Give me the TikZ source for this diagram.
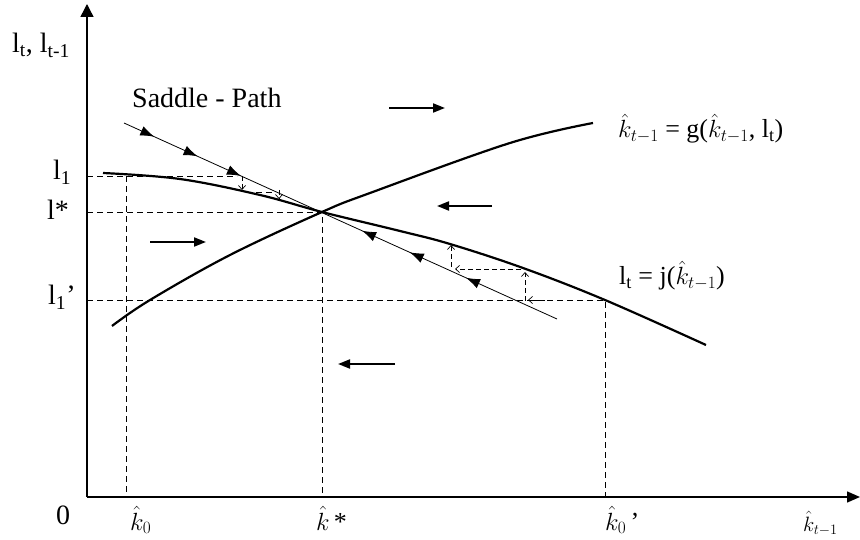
\documentclass[tikz,border=0pt]{standalone}
\usepackage{fontspec}
\setmainfont{Liberation Serif}
\usetikzlibrary{arrows.meta,decorations.markings}

\begin{document}
\begin{tikzpicture}[x=1pt,y=-1pt,>=Stealth,
 every node/.style={font=\fontsize{28}{32}\selectfont,inner sep=0pt},
 eqn/.style={font=\fontsize{26}{30}\selectfont},
 axis/.style={line width=1.4pt},
 curve/.style={line width=2.2pt},
 guide/.style={line width=0.9pt,dash pattern=on 6pt off 4pt},
 cob/.style={line width=0.7pt,dash pattern=on 5pt off 3pt,
  -{Straight Barb[length=4pt,width=7pt]}},
 flow/.style={line width=1.8pt,-{Triangle[length=12pt,width=9pt]}}]
\useasboundingbox (0,0) rectangle (860,540);
% key points
\coordinate (O) at (87,497);
\coordinate (ytop) at (87,4);
\coordinate (xend) at (860,497);
\coordinate (E) at (322,212);
\coordinate (A) at (126,176);
\coordinate (S1) at (237,176);
\coordinate (B) at (605,300);
% axes
\draw[axis,-{Triangle[length=13pt,width=13pt]}] (O) -- (ytop);
\draw[axis,-{Triangle[length=13pt,width=11pt]}] (O) -- (xend);
% guides
\draw[guide] (S1 -| O) -- (S1);
\draw[guide] (A) -- (A |- O);
\draw[guide] (E -| O) -- (E) -- (E |- O);
\draw[guide] (B -| O) -- (B) -- (B |- O);
% curves
\draw[curve] plot[smooth,tension=0.6] coordinates {(103,173) (180,179)
 (260,195) (322,212) (400,231) (450,244) (523,268) (605,300) (706,345)};
\draw[curve] plot[smooth,tension=0.6] coordinates {(112,326) (150,300)
 (230,255) (322,212) (370,193) (510,143) (593,123)};
% saddle path
\draw[line width=0.8pt,postaction={decorate},decoration={markings,
 mark=at position 0.07 with {\arrow{Latex[length=14pt,width=10pt]}},
 mark=at position 0.17 with {\arrow{Latex[length=14pt,width=10pt]}},
 mark=at position 0.27 with {\arrow{Latex[length=14pt,width=10pt]}},
 mark=at position 0.55 with {\arrowreversed{Latex[length=14pt,width=10pt]}},
 mark=at position 0.66 with {\arrowreversed{Latex[length=14pt,width=10pt]}},
 mark=at position 0.79 with {\arrowreversed{Latex[length=14pt,width=10pt]}}}]
 (124,123) -- (557,319);
% cobwebs
\draw[cob] (242,176) -- (242,190);
\draw[guide,line width=0.7pt] (246,192) -- (275,192);
\draw[cob] (279,190) -- (279,199);
\draw[cob] (545,300) -- (528,300);
\draw[cob] (525,301) -- (525,272);
\draw[cob] (521,269) -- (455,269);
\draw[cob] (451,267) -- (451,245);
% motion
\draw[flow] (389,108) -- (445,108);
\draw[flow] (492,206) -- (437,206);
\draw[flow] (150,242) -- (206,242);
\draw[flow] (395,364) -- (338,364);
% labels
\node[anchor=base west] (ylab) at (12,53) {l\textsubscript{t}, l\textsubscript{t-1}};
\node[anchor=base west] (spath) at (132,108) {Saddle - Path};
\node[anchor=base west] (l1) at (53,180) {l\textsubscript{1}};
\node[anchor=base west] (lstar) at (47,220) {l*};
\node[anchor=base west] (l1p) at (48,305) {l\textsubscript{1}’};
\node[eqn,anchor=base west] (geq) at (618,138)
 {$\hat{k}_{t-1}$ = g($\hat{k}_{t-1}$, l\textsubscript{t})};
\node[eqn,anchor=base west] (jeq) at (619,285)
 {l\textsubscript{t} = j($\hat{k}_{t-1}$)};
\node[anchor=base] (zero) at (63,524) {0};
\node[eqn,anchor=base west] (k0) at (130,530) {$\hat{k}_0$};
\node[eqn,anchor=base west] (kstar) at (316,530) {$\hat{k}\,$*};
\node[eqn,anchor=base west] (k0p) at (605,530) {$\hat{k}_0$\,’};
\node[anchor=base west,font=\fontsize{22}{26}\selectfont] (kax) at (803,531) {$\hat{k}_{t-1}$};
\end{tikzpicture}
\end{document}
